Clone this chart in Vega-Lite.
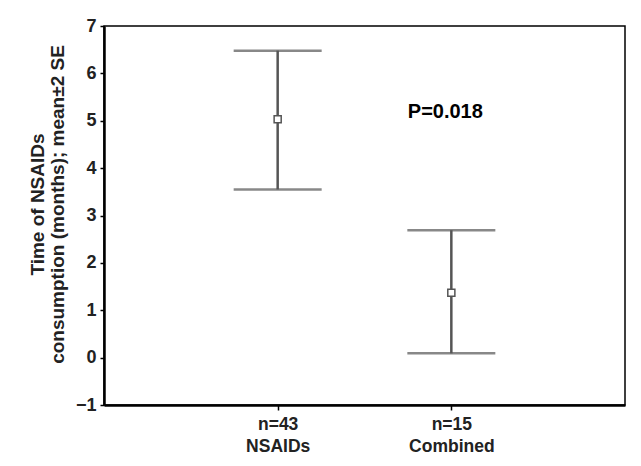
{
  "$schema": "https://vega.github.io/schema/vega-lite/v6.json",
  "autosize": "none",
  "width": 521,
  "height": 379,
  "padding": {"left": 104, "top": 26, "right": 16, "bottom": 61},
  "background": "white",
  "config": {
    "view": {"stroke": "black", "strokeWidth": 1.5},
    "font": "Liberation Sans"
  },
  "datasets": {
    "groups": [
      {"group": "NSAIDs", "n": 43, "mean": 5.03, "lower": 3.55, "upper": 6.48},
      {"group": "Combined", "n": 15, "mean": 1.37, "lower": 0.09, "upper": 2.69}
    ],
    "annot": [
      {"group": "Combined", "y": 5.18, "label": "P=0.018"}
    ]
  },
  "layer": [
    {
      "data": {"name": "groups"},
      "mark": {"type": "rule", "color": "#555555", "strokeWidth": 2.5},
      "encoding": {
        "x": {
          "field": "group",
          "type": "nominal",
          "sort": null,
          "scale": {"type": "point", "padding": 1},
          "axis": {
            "title": null,
            "labelAngle": 0,
            "labelExpr": "datum.label == 'NSAIDs' ? ['n=43', 'NSAIDs'] : ['n=15', 'Combined']",
            "labelFont": "Liberation Sans",
            "labelFontSize": 17.5,
            "labelFontWeight": "bold",
            "labelColor": "#222222",
            "labelLineHeight": 22,
            "labelPadding": 5,
            "domainColor": "black",
            "domainWidth": 2.5,
            "tickColor": "black",
            "tickWidth": 1.5,
            "tickSize": 5,
            "grid": false
          }
        },
        "y": {
          "field": "lower",
          "type": "quantitative",
          "scale": {"domain": [-1, 7], "nice": false, "zero": false},
          "axis": {
            "values": [-1, 0, 1, 2, 3, 4, 5, 6, 7],
            "labelExpr": "replace(datum.label, '-', '\u2212')",
            "title": ["Time of NSAIDs", "consumption (months); mean\u00b12 SE"],
            "titleFont": "Liberation Sans",
            "titleFontSize": 19,
            "titleFontWeight": "bold",
            "titleColor": "#222222",
            "titleLineHeight": 20,
            "titlePadding": 8,
            "titleY": 178,
            "labelFont": "Liberation Sans",
            "labelFontSize": 18,
            "labelFontWeight": "bold",
            "labelColor": "#222222",
            "labelPadding": 4,
            "domainColor": "black",
            "domainWidth": 2.5,
            "tickColor": "black",
            "tickWidth": 1.5,
            "tickSize": 4,
            "grid": false
          }
        },
        "y2": {"field": "upper"}
      }
    },
    {
      "data": {"name": "groups"},
      "mark": {"type": "tick", "orient": "horizontal", "color": "#555555", "thickness": 2.5, "size": 88},
      "encoding": {
        "x": {"field": "group", "type": "nominal", "sort": null},
        "y": {"field": "lower", "type": "quantitative"}
      }
    },
    {
      "data": {"name": "groups"},
      "mark": {"type": "tick", "orient": "horizontal", "color": "#555555", "thickness": 2.5, "size": 88},
      "encoding": {
        "x": {"field": "group", "type": "nominal", "sort": null},
        "y": {"field": "upper", "type": "quantitative"}
      }
    },
    {
      "data": {"name": "groups"},
      "mark": {"type": "point", "shape": "square", "filled": true, "fill": "white", "stroke": "#555555", "strokeWidth": 1.5, "size": 50, "opacity": 1},
      "encoding": {
        "x": {"field": "group", "type": "nominal", "sort": null},
        "y": {"field": "mean", "type": "quantitative"}
      }
    },
    {
      "data": {"name": "annot"},
      "mark": {"type": "text", "font": "Liberation Sans", "fontSize": 20, "fontWeight": "bold", "color": "black", "dx": -6, "align": "center", "baseline": "middle"},
      "encoding": {
        "x": {"field": "group", "type": "nominal", "sort": null},
        "y": {"field": "y", "type": "quantitative"},
        "text": {"field": "label"}
      }
    }
  ]
}
